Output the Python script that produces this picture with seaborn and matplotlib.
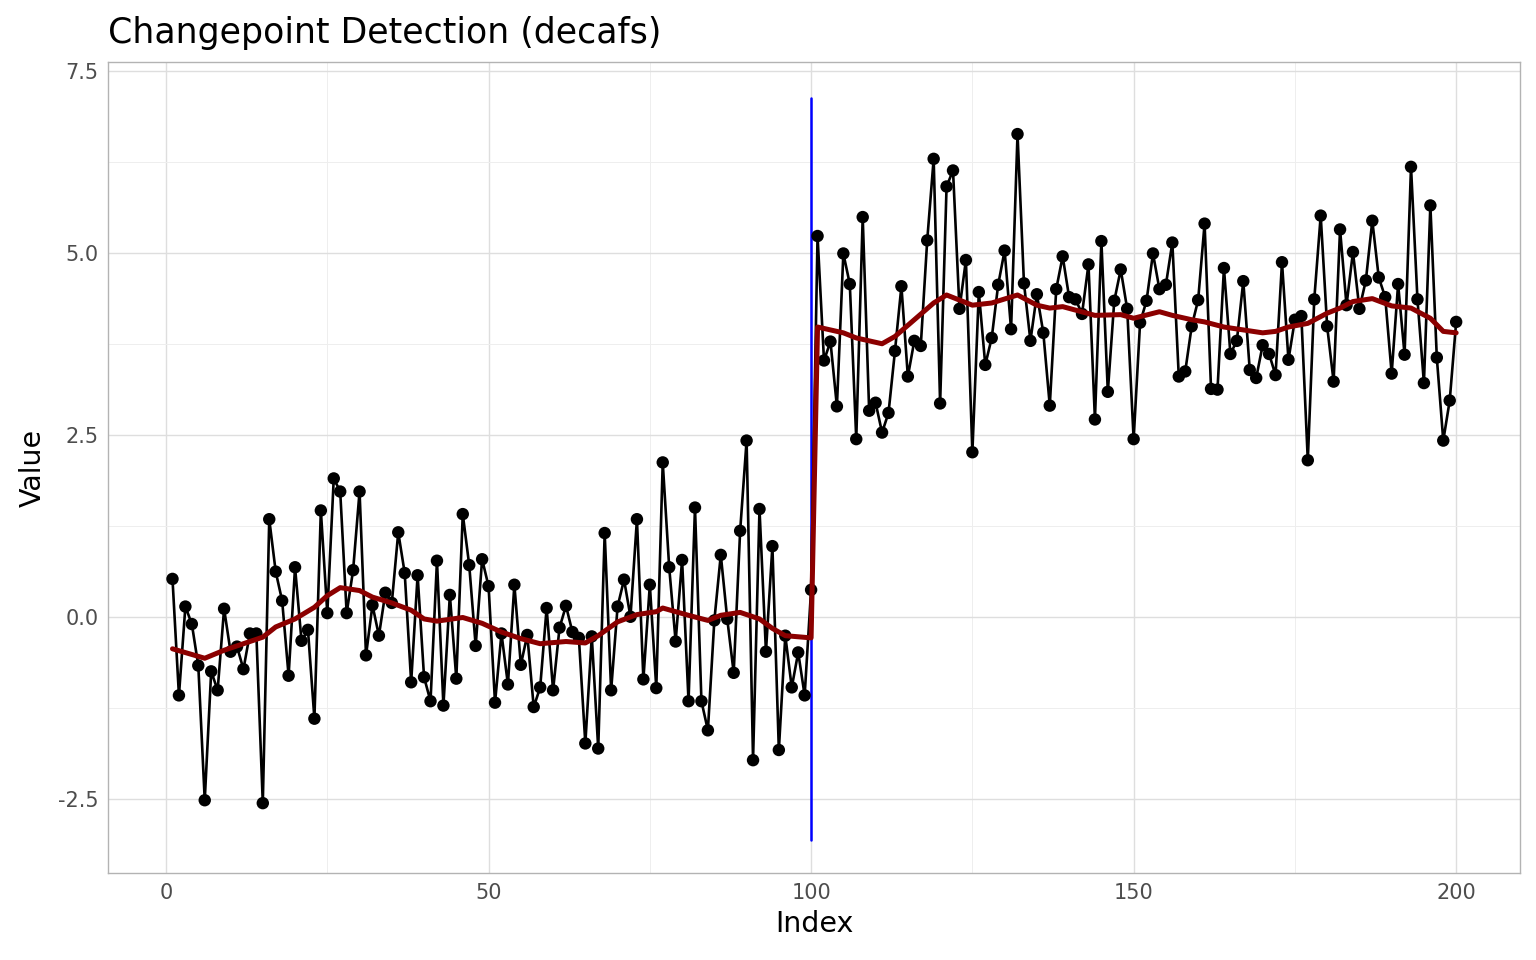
import numpy as np
import pandas as pd
import matplotlib
matplotlib.use("Agg")
import matplotlib.pyplot as plt
import seaborn as sns

values_seg1 = [
    0.52, -1.08, 0.14, -0.10, -0.67, -2.52, -0.75, -1.01, 0.11, -0.48,
    -0.41, -0.72, -0.23, -0.23, -2.56, 1.34, 0.62, 0.22, -0.81, 0.68,
    -0.33, -0.18, -1.40, 1.46, 0.05, 1.90, 1.72, 0.05, 0.64, 1.72,
    -0.53, 0.16, -0.26, 0.33, 0.19, 1.16, 0.60, -0.90, 0.57, -0.83,
    -1.16, 0.77, -1.22, 0.30, -0.85, 1.41, 0.71, -0.40, 0.79, 0.42,
    -1.18, -0.23, -0.93, 0.44, -0.66, -0.25, -1.24, -0.97, 0.12, -1.01,
    -0.15, 0.15, -0.21, -0.29, -1.74, -0.27, -1.81, 1.15, -1.01, 0.14,
    0.51, 0.00, 1.34, -0.86, 0.44, -0.98, 2.12, 0.68, -0.34, 0.78,
    -1.16, 1.50, -1.16, -1.56, -0.05, 0.85, -0.03, -0.77, 1.18, 2.42,
    -1.97, 1.48, -0.48, 0.97, -1.83, -0.26, -0.97, -0.49, -1.08, 0.37,
]
values_seg2 = [
    5.23, 3.52, 3.78, 2.89, 4.99, 4.57, 2.44, 5.49, 2.83, 2.94,
    2.53, 2.80, 3.65, 4.54, 3.30, 3.79, 3.72, 5.17, 6.29, 2.93,
    5.91, 6.13, 4.23, 4.90, 2.26, 4.46, 3.46, 3.83, 4.56, 5.03,
    3.95, 6.63, 4.58, 3.79, 4.43, 3.90, 2.90, 4.50, 4.95, 4.39,
    4.36, 4.16, 4.84, 2.71, 5.16, 3.09, 4.34, 4.77, 4.23, 2.44,
    4.04, 4.34, 4.99, 4.50, 4.56, 5.14, 3.30, 3.37, 3.99, 4.35,
    5.40, 3.13, 3.12, 4.79, 3.61, 3.79, 4.61, 3.39, 3.28, 3.73,
    3.61, 3.32, 4.87, 3.53, 4.08, 4.13, 2.15, 4.36, 5.51, 3.99,
    3.23, 5.32, 4.28, 5.01, 4.23, 4.62, 5.44, 4.66, 4.39, 3.34,
    4.57, 3.60, 6.18, 4.36, 3.21, 5.65, 3.56, 2.42, 2.97, 4.05,
]

# estimated signal (dark red line)
signal_idx = [1, 6, 9, 15, 17, 20, 23, 25, 27, 30, 32, 35, 38, 40, 42, 46, 49,
              52, 55, 58, 62, 65, 67, 70, 73, 76, 77, 81, 84, 86, 89, 92, 94,
              96, 100, 101, 105, 107, 111, 113, 116, 119, 121, 125, 128, 132,
              135, 137, 139, 144, 148, 150, 154, 156, 159, 161, 164, 167, 170,
              172, 174, 177, 180, 182, 184, 187, 190, 193, 196, 198, 200]
signal_val = [-0.44, -0.57, -0.46, -0.28, -0.14, -0.03, 0.13, 0.29, 0.40, 0.36,
              0.27, 0.19, 0.09, -0.03, -0.06, -0.01, -0.09, -0.21, -0.30, -0.37,
              -0.34, -0.36, -0.26, -0.07, 0.03, 0.07, 0.12, 0.02, -0.05, 0.02,
              0.06, -0.03, -0.16, -0.26, -0.29, 3.98, 3.90, 3.83, 3.75, 3.85,
              4.08, 4.31, 4.42, 4.28, 4.31, 4.42, 4.28, 4.24, 4.26, 4.14,
              4.15, 4.10, 4.19, 4.14, 4.08, 4.05, 3.98, 3.94, 3.90, 3.92,
              3.98, 4.03, 4.17, 4.24, 4.33, 4.37, 4.27, 4.24, 4.10, 3.92, 3.90]

changepoints = [100]

values = values_seg1 + values_seg2
df = pd.DataFrame({"Index": np.arange(1, len(values) + 1), "Value": values})
df_sig = pd.DataFrame({"Index": signal_idx, "Value": signal_val})

sns.set_theme(style="whitegrid")
plt.rcParams["font.family"] = ["DejaVu Sans"]
plt.rcParams["text.color"] = "black"
plt.rcParams["axes.labelcolor"] = "black"

fig, ax = plt.subplots(figsize=(15.36, 9.6), dpi=100)
fig.subplots_adjust(left=0.0703, right=0.9896, top=0.9354, bottom=0.0906)

sns.lineplot(data=df, x="Index", y="Value", ax=ax, color="black", linewidth=1.9,
             zorder=3)
sns.scatterplot(data=df, x="Index", y="Value", ax=ax, color="black", s=80,
                edgecolor="none", zorder=4)
sns.lineplot(data=df_sig, x="Index", y="Value", ax=ax, color="#8B0000",
             linewidth=3.6, zorder=5)

ymin, ymax = min(values) - 0.5, max(values) + 0.5
for cp in changepoints:
    ax.plot([cp, cp], [ymin, ymax], color="blue", linewidth=1.8, zorder=2)

ax.set_xlim(-9, 209.9)
ax.set_ylim(-3.52, 7.62)
ax.set_xticks([0, 50, 100, 150, 200])
ax.set_xticks([25, 75, 125, 175], minor=True)
ax.set_yticks([-2.5, 0, 2.5, 5.0, 7.5])
ax.set_yticklabels(["-2.5", "0.0", "2.5", "5.0", "7.5"])
ax.set_yticks([-1.25, 1.25, 3.75, 6.25], minor=True)

ax.grid(which="major", color="#DEDEDE", linewidth=1.0)
ax.grid(which="minor", color="#EEEEEE", linewidth=0.7)
ax.set_axisbelow(True)
for sp in ax.spines.values():
    sp.set_visible(True)
    sp.set_color("#B3B3B3")
    sp.set_linewidth(1.0)
ax.tick_params(axis="both", which="major", length=4, color="#B3B3B3",
               labelsize=15, labelcolor="#4D4D4D", pad=3)
ax.tick_params(axis="both", which="minor", length=0)

ax.set_xlabel("Index", fontsize=20.5, labelpad=5)
ax.set_ylabel("Value", fontsize=20.5, labelpad=8)
ax.set_title("Changepoint Detection (decafs)", loc="left", fontsize=25, pad=14)

plt.savefig("out.png", dpi=100)
plt.close()
